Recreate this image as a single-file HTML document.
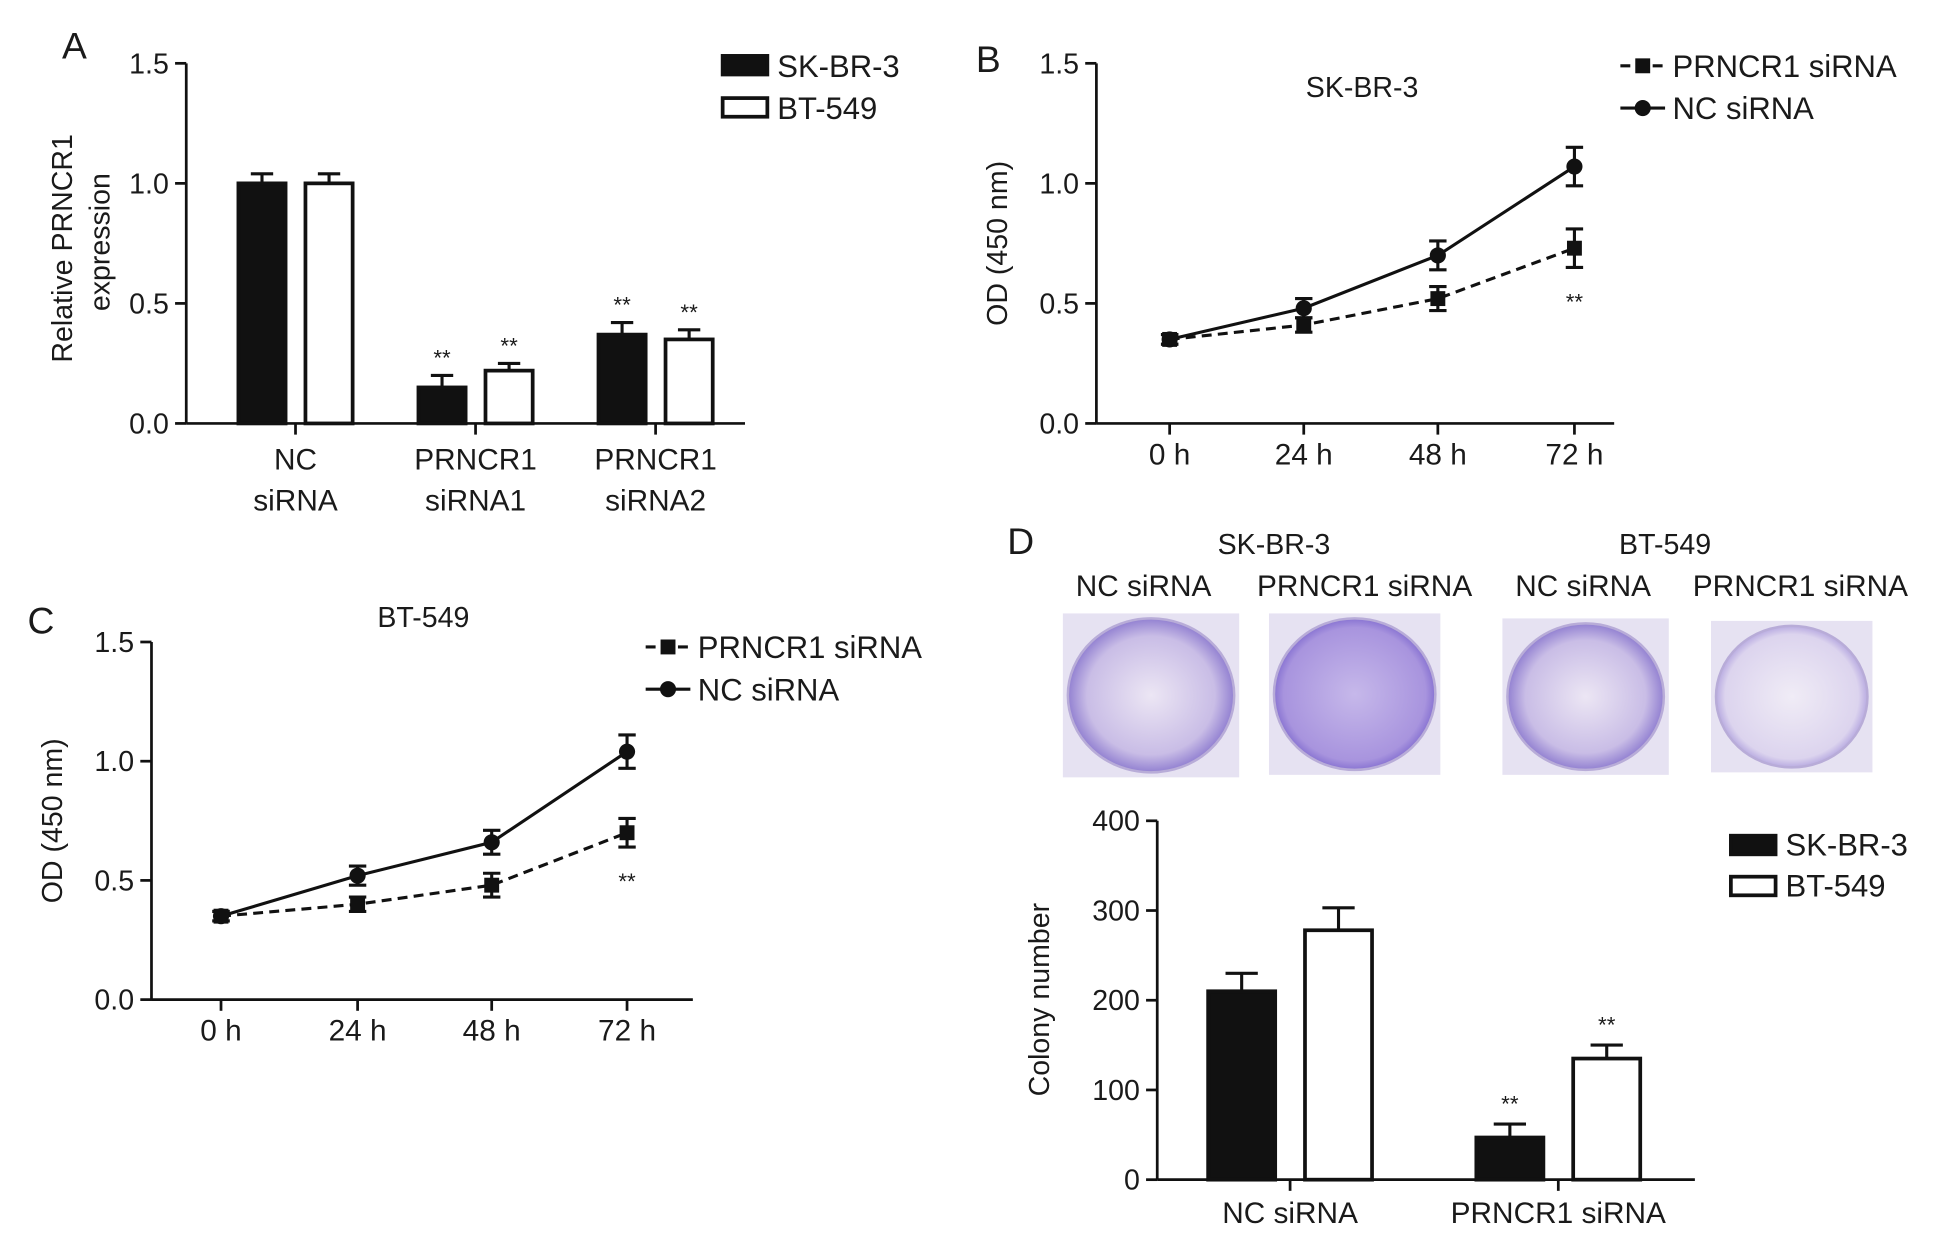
<!DOCTYPE html>
<html><head><meta charset="utf-8"><style>
html,body{margin:0;padding:0;background:#fff;}
svg{display:block;font-family:"Liberation Sans",Arial,sans-serif;}
</style></head><body>
<svg id="fig" width="1937" height="1243" viewBox="0 0 1560 1001" preserveAspectRatio="none" xmlns="http://www.w3.org/2000/svg">
<defs>
<radialGradient id="dishA" cx="50%" cy="50%" r="55%"><stop offset="0" stop-color="#ece6f4"/><stop offset="0.7" stop-color="#c9bde6"/><stop offset="1" stop-color="#7a66c8"/></radialGradient>
<radialGradient id="dishB" cx="50%" cy="50%" r="55%"><stop offset="0" stop-color="#c6b8ea"/><stop offset="0.8" stop-color="#a894de"/><stop offset="1" stop-color="#6e58c8"/></radialGradient>
<radialGradient id="dishC" cx="50%" cy="50%" r="55%"><stop offset="0" stop-color="#f0ecf6"/><stop offset="0.8" stop-color="#dcd4ee"/><stop offset="1" stop-color="#9a88d6"/></radialGradient>
</defs>
<g id="root"></g>
</svg>
<script>
// Panel A data
const aCats = [["NC","siRNA"],["PRNCR1","siRNA1"],["PRNCR1","siRNA2"]];
const aSk = [1.0, 0.15, 0.37];
const aSkErr = [0.04, 0.05, 0.05];
const aBt = [1.0, 0.22, 0.35];
const aBtErr = [0.04, 0.03, 0.04];
const aTicks = [0.0, 0.5, 1.0, 1.5];
// Panel B data
const timeCats = ["0 h","24 h","48 h","72 h"];
const bPr = [0.35, 0.41, 0.52, 0.73];
const bPrErr = [0.02, 0.03, 0.05, 0.08];
const bNc = [0.35, 0.48, 0.70, 1.07];
const bNcErr = [0.02, 0.04, 0.06, 0.08];
// Panel C data
const cPr = [0.35, 0.40, 0.48, 0.70];
const cPrErr = [0.02, 0.03, 0.05, 0.06];
const cNc = [0.35, 0.52, 0.66, 1.04];
const cNcErr = [0.02, 0.04, 0.05, 0.07];
const odTicks = [0.0, 0.5, 1.0, 1.5];
// Panel D data
const dCats = ["NC siRNA","PRNCR1 siRNA"];
const dSk = [210, 47];
const dSkErr = [20, 15];
const dBt = [278, 135];
const dBtErr = [25, 15];
const dTicks = [0, 100, 200, 300, 400];

const NS="http://www.w3.org/2000/svg";
const root=document.getElementById('root');
function el(tag,attrs,parent,text){const e=document.createElementNS(NS,tag);for(const k in attrs)e.setAttribute(k,attrs[k]);if(text!==undefined)e.textContent=text;(parent||root).appendChild(e);return e;}
function txt(x,y,s,size,anchor,name,extra){const t=el('text',Object.assign({x:x,y:y,'font-size':size,'text-anchor':anchor||'middle',fill:'#1a1a1a'},extra||{}),root,s);


return t;}
function line(x1,y1,x2,y2,w,name,dash){const l=el('line',{x1:x1,y1:y1,x2:x2,y2:y2,stroke:'#111','stroke-width':w||2.2});if(dash)l.setAttribute('stroke-dasharray',dash);


return l;}
function yAxis(x,y0,y1,ticks,vmin,vmax,fmt,name){
  const sc=v=>y0-(v-vmin)/(vmax-vmin)*(y0-y1);
  line(x,y0,x,y1,2.2,name+'-y-axis');
  ticks.forEach(t=>{line(x-9,sc(t),x,sc(t),2.2,name+'-y-tick');txt(x-14,sc(t)+8,fmt(t),23,'end',name+'-y-tick-label');});
  return sc;}
function bar(x,w,y,y0,fill,name){const r=el('rect',{x:x,y:y,width:w,height:y0-y,fill:fill,stroke:'#111','stroke-width':3});

}
function err(x,yv,ye,cap,name){line(x,yv,x,ye,2.5,name);line(x-cap,ye,x+cap,ye,2.5,name+'-cap');}

// ===== Panel A =====
txt(60,47,"A",30,'middle','panel-a-label');
const sA=yAxis(150,341,51,aTicks,0,1.5,v=>v.toFixed(1),'panel-a');
line(150,341,600,341,2.2,'panel-a-x-axis');
const aCenters=[238,383,528];
aCats.forEach((c,i)=>{
  const cx=aCenters[i];
  line(cx,341,cx,350,2.2,'panel-a-x-tick');
  txt(cx,378,c[0],24,'middle','panel-a-category-label');
  txt(cx,411,c[1],24,'middle','panel-a-category-label');
  const bx1=cx-46, bx2=cx+8;
  err(bx1+19,sA(aSk[i]),sA(aSk[i]+aSkErr[i]),9,'panel-a-error-sk');
  bar(bx1,38,sA(aSk[i]),341,'#111','panel-a-bar-skbr3');
  err(bx2+19,sA(aBt[i]),sA(aBt[i]+aBtErr[i]),9,'panel-a-error-bt');
  bar(bx2,38,sA(aBt[i]),341,'#fff','panel-a-bar-bt549');
  if(i>0){txt(bx1+19,sA(aSk[i]+aSkErr[i])-8,"**",18,'middle','panel-a-significance');txt(bx2+19,sA(aBt[i]+aBtErr[i])-8,"**",18,'middle','panel-a-significance');}
});
txt(58,200,"Relative PRNCR1",23,'middle','panel-a-y-title',{transform:'rotate(-90 58 200)'});
txt(88,195,"expression",23,'middle','panel-a-y-title',{transform:'rotate(-90 88 195)'});
bar(582,36,45,60,'#111','legend-a-swatch-skbr3');bar(582,36,79,94,'#fff','legend-a-swatch-bt549');
txt(626,62,"SK-BR-3",25,'start','legend-a-skbr3');txt(626,96,"BT-549",25,'start','legend-a-bt549');

// line chart helper
function lineChart(p){
  const sc=yAxis(p.x0,p.y0,p.y1,odTicks,0,1.5,v=>v.toFixed(1),p.name);
  line(p.x0,p.y0,p.xEnd,p.y0,2.2,p.name+'-x-axis');
  const xs=p.xs;
  timeCats.forEach((c,i)=>{line(xs[i],p.y0,xs[i],p.y0+9,2.2,p.name+'-x-tick');txt(xs[i],p.y0+33,c,24,'middle',p.name+'-x-tick-label');});
  const mk=(vals,errs,dash,shape,nm)=>{
    const pts=vals.map((v,i)=>xs[i]+','+sc(v)).join(' ');
    const pl=el('polyline',{points:pts,fill:'none',stroke:'#111','stroke-width':2.5});
    if(dash)pl.setAttribute('stroke-dasharray',dash);
    
    
    vals.forEach((v,i)=>{
      line(xs[i],sc(v-errs[i]),xs[i],sc(v+errs[i]),2.5,nm+'-error');
      line(xs[i]-7,sc(v-errs[i]),xs[i]+7,sc(v-errs[i]),2.5,nm+'-error-cap');
      line(xs[i]-7,sc(v+errs[i]),xs[i]+7,sc(v+errs[i]),2.5,nm+'-error-cap');
      let m;
      if(shape==='sq')m=el('rect',{x:xs[i]-6,y:sc(v)-6,width:12,height:12,fill:'#111'});
      else m=el('circle',{cx:xs[i],cy:sc(v),r:6.5,fill:'#111'});
      
      
    });
  };
  mk(p.pr,p.prErr,'8,5','sq',p.name+'-prncr1');
  mk(p.nc,p.ncErr,null,'ci',p.name+'-nc');
  txt(xs[3],sc(p.pr[3]-p.prErr[3])+34,"**",18,'middle',p.name+'-significance');
  txt(p.titleX,p.titleY,p.title,23,'middle',p.name+'-title');
  txt(p.x0-72,(p.y0+p.y1)/2,"OD (450 nm)",23,'middle',p.name+'-y-title',{transform:`rotate(-90 ${p.x0-72} ${(p.y0+p.y1)/2})`});
  const lx=p.lx, ly=p.ly;
  line(lx,ly,lx+36,ly,2.5,p.name+'-legend-line-prncr1','8,5');
  let s=el('rect',{x:lx+12,y:ly-6,width:12,height:12,fill:'#111'});
  
  
  txt(lx+42,ly+9,"PRNCR1 siRNA",25,'start',p.name+'-legend-prncr1');
  line(lx,ly+34,lx+36,ly+34,2.5,p.name+'-legend-line-nc');
  let c=el('circle',{cx:lx+18,cy:ly+34,r:6.5,fill:'#111'});
  
  
  txt(lx+42,ly+43,"NC siRNA",25,'start',p.name+'-legend-nc');
}
// ===== Panel B =====
txt(796,58,"B",30,'middle','panel-b-label');
lineChart({name:'panel-b',x0:883,y0:341,y1:51,xEnd:1300,xs:[942,1050,1158,1268],pr:bPr,prErr:bPrErr,nc:bNc,ncErr:bNcErr,title:"SK-BR-3",titleX:1097,titleY:78,lx:1305,ly:53});
// ===== Panel C =====
txt(33,510,"C",30,'middle','panel-c-label');
lineChart({name:'panel-c',x0:122,y0:805,y1:517,xEnd:558,xs:[178,288,396,505],pr:cPr,prErr:cPrErr,nc:cNc,ncErr:cNcErr,title:"BT-549",titleX:341,titleY:505,lx:520,ly:521});

// ===== Panel D =====
txt(822,446,"D",30,'middle','panel-d-label');
txt(1026,446,"SK-BR-3",23,'middle','panel-d-header-skbr3');
txt(1341,446,"BT-549",23,'middle','panel-d-header-bt549');
txt(921,480,"NC siRNA",24,'middle','panel-d-dish-label');
txt(1099,480,"PRNCR1 siRNA",24,'middle','panel-d-dish-label');
txt(1275,480,"NC siRNA",24,'middle','panel-d-dish-label');
txt(1450,480,"PRNCR1 siRNA",24,'middle','panel-d-dish-label');
const dishes=[[856,494,142,132,'dishA'],[1022,494,138,130,'dishB'],[1210,498,134,126,'dishA'],[1378,500,130,122,'dishC']];
dishes.forEach((d,i)=>{
  const r=el('rect',{x:d[0],y:d[1],width:d[2],height:d[3],fill:'#e6e2f2'});
  
  
  const e=el('ellipse',{cx:d[0]+d[2]/2,cy:d[1]+d[3]/2,rx:d[2]/2-4,ry:d[3]/2-4,fill:'url(#'+d[4]+')',stroke:'#b8acd8','stroke-width':2});
  
  
});
const sD=yAxis(932,950,661,dTicks,0,400,v=>String(v),'panel-d');
line(932,950,1365,950,2.2,'panel-d-x-axis');
const dCenters=[1039,1255];
dCats.forEach((c,i)=>{
  const cx=dCenters[i];
  line(cx,950,cx,959,2.2,'panel-d-x-tick');
  txt(cx,985,c,24,'middle','panel-d-category-label');
  const bx1=cx-66, bx2=cx+12;
  err(bx1+27,sD(dSk[i]),sD(dSk[i]+dSkErr[i]),13,'panel-d-error-sk');
  bar(bx1,54,sD(dSk[i]),950,'#111','panel-d-bar-skbr3');
  err(bx2+27,sD(dBt[i]),sD(dBt[i]+dBtErr[i]),13,'panel-d-error-bt');
  bar(bx2,54,sD(dBt[i]),950,'#fff','panel-d-bar-bt549');
  if(i>0){txt(bx1+27,sD(dSk[i]+dSkErr[i])-10,"**",18,'middle','panel-d-significance');txt(bx2+27,sD(dBt[i]+dBtErr[i])-10,"**",18,'middle','panel-d-significance');}
});
txt(845,805,"Colony number",23,'middle','panel-d-y-title',{transform:'rotate(-90 845 805)'});
bar(1394,36,673,688,'#111','legend-d-swatch-skbr3');bar(1394,36,706,721,'#fff','legend-d-swatch-bt549');
txt(1438,689,"SK-BR-3",25,'start','legend-d-skbr3');txt(1438,722,"BT-549",25,'start','legend-d-bt549');
</script>
</body></html>
